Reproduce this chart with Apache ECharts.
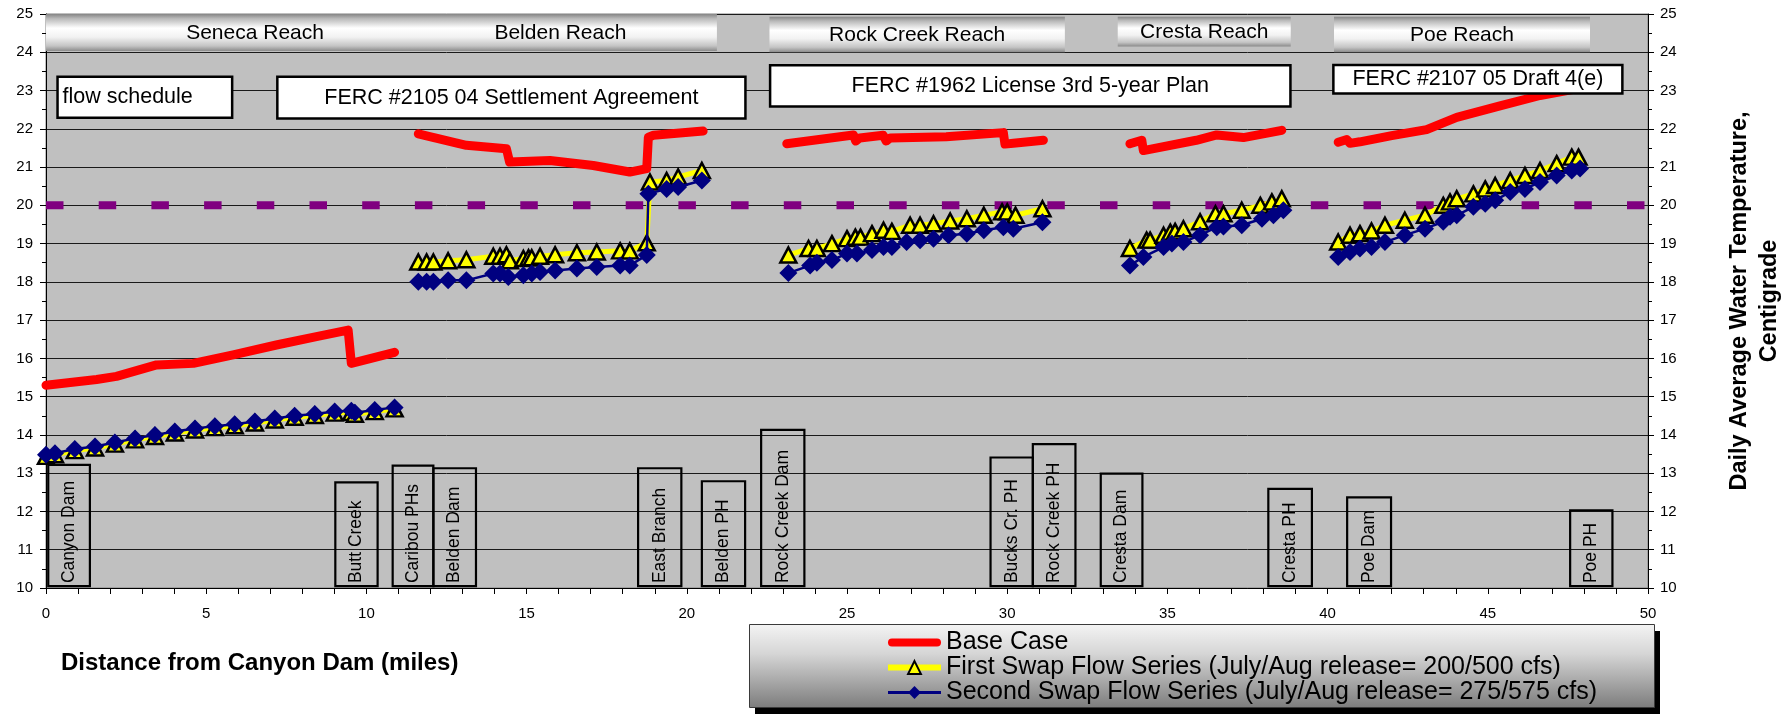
<!DOCTYPE html>
<html>
<head>
<meta charset="utf-8">
<title>Daily Average Water Temperature</title>
<script src="https://cdn.jsdelivr.net/npm/echarts/dist/echarts.min.js"></script>
<style>
    html, body { margin: 0; padding: 0; background: #fff; }
    #main { width: 1790px; height: 715px; }
</style>
</head>
<body>
<div id="main"></div>
<script>
    // ---- data ----
    // null marks a break between reaches
    var baseMiles = [0, 1.58, 2.2, 3.45, 4.6, 5.84, 7.19, 8.44, 9.43, 9.53, 10.88, null,
        11.62, 13.12, 14.37, 14.47, 15.73, 17.08, 18.22, 18.75, 18.8, 18.96, 20.51, null,
        23.12, 25.2, 25.27, 25.4, 26.13, 26.22, 26.35, 28.1, 29.88, 29.93, 30.19, 31.13, null,
        33.83, 34.2, 34.25, 35.9, 36.54, 37.37, 38.57, null,
        40.33, 40.6, 40.7, 41.01, 42.0, 43.09, 44.03, 45.38, 46.63, 47.72, 48.3];
    var baseTemp = [15.3, 15.45, 15.53, 15.83, 15.87, 16.09, 16.35, 16.57, 16.74, 15.87, 16.16, null,
        21.87, 21.57, 21.48, 21.13, 21.17, 21.04, 20.87, 20.96, 21.78, 21.83, 21.94, null,
        21.61, 21.84, 21.68, 21.76, 21.83, 21.68, 21.76, 21.79, 21.9, 21.6, 21.62, 21.7, null,
        21.61, 21.7, 21.43, 21.7, 21.84, 21.77, 21.96, null,
        21.65, 21.72, 21.62, 21.66, 21.82, 21.98, 22.3, 22.6, 22.87, 23.04, 23.12];

    var swap1Miles = [0, 0.28, 0.9, 1.53, 2.15, 2.78, 3.4, 4.02, 4.65, 5.27, 5.89, 6.52, 7.14, 7.76, 8.39, 9.01, 9.53, 9.64, 10.26, 10.88, null,
        11.62, 11.88, 12.09, 12.55, 13.12, 13.96, 14.17, 14.37, 14.48, 14.9, 15.06, 15.16, 15.42, 15.89, 16.57, 17.19, 17.92, 18.22, 18.75, 18.85, 19.37, 19.73, 20.47, null,
        23.17, 23.8, 24.06, 24.53, 25.0, 25.26, 25.42, 25.78, 26.14, 26.4, 26.97, 27.28, 27.7, 28.22, 28.74, 29.27, 29.84, 30.0, 30.26, 31.1, null,
        33.83, 34.35, 34.46, 34.88, 35.09, 35.24, 35.5, 36.02, 36.5, 36.75, 37.32, 37.9, 38.26, 38.57, null,
        40.33, 40.7, 41.01, 41.37, 41.79, 42.41, 43.04, 43.61, 43.82, 44.03, 44.55, 44.92, 45.23, 45.7, 46.16, 46.63, 47.15, 47.62, 47.83];
    var swap1Temp = [13.44, 13.48, 13.59, 13.66, 13.76, 13.87, 13.96, 14.05, 14.13, 14.19, 14.24, 14.31, 14.39, 14.46, 14.51, 14.57, 14.59, 14.54, 14.61, 14.68, null,
        18.52, 18.52, 18.52, 18.55, 18.58, 18.67, 18.67, 18.71, 18.55, 18.61, 18.63, 18.63, 18.67, 18.71, 18.76, 18.78, 18.81, 18.81, 19.02, 20.61, 20.65, 20.74, 20.91, null,
        18.7, 18.87, 18.87, 19.0, 19.13, 19.17, 19.17, 19.26, 19.35, 19.32, 19.48, 19.48, 19.52, 19.59, 19.65, 19.74, 19.83, 19.83, 19.74, 19.91, null,
        18.87, 19.09, 19.09, 19.22, 19.3, 19.32, 19.39, 19.57, 19.78, 19.78, 19.87, 20.0, 20.09, 20.17, null,
        19.04, 19.22, 19.26, 19.33, 19.48, 19.61, 19.74, 20.0, 20.09, 20.17, 20.3, 20.43, 20.52, 20.65, 20.78, 20.91, 21.09, 21.26, 21.26];

    var swap2Miles = [0, 0.28, 0.9, 1.53, 2.15, 2.78, 3.4, 4.02, 4.65, 5.27, 5.89, 6.52, 7.14, 7.76, 8.39, 9.01, 9.53, 9.64, 10.26, 10.88, null,
        11.62, 11.88, 12.09, 12.55, 13.12, 13.96, 14.17, 14.43, 14.9, 15.16, 15.42, 15.89, 16.57, 17.19, 17.92, 18.22, 18.75, 18.8, 19.37, 19.73, 20.47, null,
        23.17, 23.85, 24.06, 24.53, 25.0, 25.31, 25.78, 26.14, 26.4, 26.86, 27.28, 27.7, 28.17, 28.74, 29.27, 29.88, 30.19, 31.1, null,
        33.83, 34.25, 34.88, 35.14, 35.5, 36.02, 36.54, 36.75, 37.32, 37.95, 38.31, 38.62, null,
        40.33, 40.7, 41.01, 41.37, 41.79, 42.41, 43.04, 43.61, 43.82, 44.03, 44.55, 44.92, 45.23, 45.7, 46.16, 46.63, 47.15, 47.62, 47.88];
    var swap2Temp = [13.48, 13.52, 13.63, 13.7, 13.8, 13.91, 14.0, 14.09, 14.17, 14.23, 14.28, 14.35, 14.43, 14.5, 14.55, 14.61, 14.63, 14.58, 14.65, 14.72, null,
        18.0, 18.0, 18.0, 18.04, 18.04, 18.22, 18.22, 18.13, 18.17, 18.22, 18.26, 18.3, 18.35, 18.39, 18.43, 18.43, 18.7, 20.3, 20.43, 20.48, 20.65, null,
        18.23, 18.43, 18.5, 18.57, 18.74, 18.74, 18.83, 18.91, 18.91, 19.04, 19.09, 19.13, 19.22, 19.26, 19.35, 19.43, 19.39, 19.56, null,
        18.43, 18.65, 18.91, 19.0, 19.04, 19.22, 19.43, 19.45, 19.48, 19.65, 19.74, 19.87, null,
        18.65, 18.78, 18.87, 18.91, 19.04, 19.22, 19.39, 19.57, 19.7, 19.74, 19.96, 20.04, 20.13, 20.35, 20.43, 20.61, 20.78, 20.91, 20.96];

    var thresholdMiles = [0, 50];
    var thresholdTemp = [20, 20];

    var reachNames = ['Seneca Reach', 'Belden Reach', 'Rock Creek Reach', 'Cresta Reach', 'Poe Reach'];
    var reachStart = [0, 11.17, 22.58, 33.45, 40.2];
    var reachEnd = [13.05, 20.94, 31.8, 38.85, 48.19];
    var reachTop = [25, 25, 24.93, 24.93, 24.93];
    var reachBottom = [24.03, 24.03, 24.0, 24.15, 24.0];

    var noteText = ['flow schedule', 'FERC #2105 04 Settlement Agreement', 'FERC #1962 License 3rd 5-year Plan', 'FERC #2107 05 Draft 4(e)'];
    var noteStart = [0.36, 7.22, 22.6, 40.18];
    var noteEnd = [5.81, 21.83, 38.84, 49.2];
    var noteTop = [23.36, 23.36, 23.66, 23.67];
    var noteBottom = [22.29, 22.27, 22.58, 22.92];

    var plantNames = ['Canyon Dam', 'Butt Creek', 'Caribou PHs', 'Belden Dam', 'East Branch', 'Belden PH', 'Rock Creek Dam',
        'Bucks Cr. PH', 'Rock Creek PH', 'Cresta Dam', 'Cresta PH', 'Poe Dam', 'Poe PH'];
    var plantStart = [0.07, 9.03, 10.82, 12.09, 18.48, 20.47, 22.32, 29.48, 30.8, 32.92, 38.15, 40.61, 47.57];
    var plantEnd = [1.37, 10.35, 12.09, 13.42, 19.83, 21.82, 23.67, 30.8, 32.13, 34.22, 39.51, 41.98, 48.89];
    var plantTop = [13.22, 12.76, 13.2, 13.13, 13.13, 12.79, 14.13, 13.41, 13.76, 12.99, 12.59, 12.37, 12.03];
    var plantBase = 10.05;

    var seriesNames = ['Base Case',
        'First Swap Flow Series (July/Aug release= 200/500 cfs)',
        'Second Swap Flow Series (July/Aug release= 275/575 cfs)'];

    // ---- chart ----
    var FONT = '"Liberation Sans", Arial, sans-serif';

    function pairs(xs, ys) {
        return xs.map(function (x, i) {
            return ys[i] == null ? ['-', '-'] : [x, ys[i]];
        });
    }

    function boxData(starts, ends, tops, bottoms) {
        return starts.map(function (s, i) {
            return [s, ends[i], tops[i], bottoms ? bottoms[i] : plantBase];
        });
    }

    function drawPlant(params, api) {
        var p0 = api.coord([api.value(0), api.value(3)]);
        var p1 = api.coord([api.value(1), api.value(2)]);
        return {
            type: 'group',
            children: [{
                type: 'rect',
                shape: {x: p0[0], y: p1[1], width: p1[0] - p0[0], height: p0[1] - p1[1]},
                style: {fill: 'none', stroke: '#000', lineWidth: 2.2}
            }, {
                type: 'text',
                x: (p0[0] + p1[0]) / 2,
                y: p0[1] - 3,
                rotation: Math.PI / 2,
                style: {
                    text: plantNames[params.dataIndex],
                    fontSize: 17.5, fontFamily: FONT, fill: '#000',
                    align: 'left', verticalAlign: 'middle',
                    textAlign: 'left', textVerticalAlign: 'middle'
                }
            }]
        };
    }

    function drawNote(params, api) {
        var p0 = api.coord([api.value(0), api.value(3)]);
        var p1 = api.coord([api.value(1), api.value(2)]);
        var left = params.dataIndex === 0;
        return {
            type: 'group',
            children: [{
                type: 'rect',
                shape: {x: p0[0], y: p1[1], width: p1[0] - p0[0], height: p0[1] - p1[1]},
                style: {fill: '#fff', stroke: '#000', lineWidth: 2.5}
            }, {
                type: 'text',
                x: left ? p0[0] + 5 : (p0[0] + p1[0]) / 2,
                y: (p0[1] + p1[1]) / 2,
                style: {
                    text: noteText[params.dataIndex],
                    fontSize: 21.5, fontFamily: FONT, fill: '#000',
                    align: left ? 'left' : 'center', verticalAlign: 'middle',
                    textAlign: left ? 'left' : 'center', textVerticalAlign: 'middle'
                }
            }]
        };
    }

    function drawReach(params, api) {
        var p0 = api.coord([api.value(0), api.value(3)]);
        var p1 = api.coord([api.value(1), api.value(2)]);
        return {
            type: 'group',
            children: [{
                type: 'rect',
                shape: {x: p0[0], y: p1[1], width: p1[0] - p0[0], height: p0[1] - p1[1]},
                style: {
                    fill: new echarts.graphic.LinearGradient(0, 0, 0, 1, [
                        {offset: 0, color: '#858585'},
                        {offset: 0.12, color: '#b8b8b8'},
                        {offset: 0.38, color: '#ffffff'},
                        {offset: 0.62, color: '#f2f2f2'},
                        {offset: 0.86, color: '#c4c4c4'},
                        {offset: 1, color: '#8a8a8a'}
                    ])
                }
            }, {
                type: 'text',
                x: (p0[0] + p1[0]) / 2,
                y: (p0[1] + p1[1]) / 2 + 1,
                style: {
                    text: reachNames[params.dataIndex],
                    fontSize: 21, fontFamily: FONT, fill: '#000',
                    align: 'center', verticalAlign: 'middle',
                    textAlign: 'center', textVerticalAlign: 'middle'
                }
            }]
        };
    }

    var chart = echarts.init(document.getElementById('main'));

    var option = {
        animation: false,
        backgroundColor: '#fff',
        title: {
            text: 'Distance from Canyon Dam (miles)',
            left: 56, top: 646,
            textStyle: {fontFamily: FONT, fontSize: 24, fontWeight: 'bold', color: '#000'}
        },
        grid: {
            left: 46, right: 142, top: 14, bottom: 127,
            show: true, backgroundColor: '#C0C0C0', borderColor: '#808080', borderWidth: 1,
            outerBoundsMode: 'none'
        },
        graphic: [{
            type: 'rect', left: 755, top: 631, z: 0,
            shape: {width: 905, height: 83},
            style: {fill: '#000'}
        }, {
            type: 'rect', left: 749, top: 624, z: 1,
            shape: {width: 905, height: 83},
            style: {
                fill: new echarts.graphic.LinearGradient(0, 0, 0, 1, [
                    {offset: 0, color: '#f4f4f4'},
                    {offset: 0.35, color: '#d6d6d6'},
                    {offset: 1, color: '#7c7c7c'}
                ]),
                stroke: '#3a3a3a', lineWidth: 1
            }
        }],
        legend: {
            orient: 'vertical',
            left: 885, top: 630, height: 84, padding: 0,
            itemWidth: 53, itemHeight: 16, itemGap: 0,
            z: 5,
            textStyle: {fontFamily: FONT, fontSize: 25, color: '#000', lineHeight: 24},
            data: [{
                name: seriesNames[0],
                icon: 'path://M4,0 L49,0 A4,4 0 0 1 49,8 L4,8 A4,4 0 0 1 4,0 Z',
                itemStyle: {color: '#FF0000'}
            }, {
                name: seriesNames[1],
                lineStyle: {color: '#FFFF00', width: 6}
            }, {
                name: seriesNames[2],
                lineStyle: {color: '#000080', width: 3}
            }]
        },
        xAxis: {
            type: 'value', min: 0, max: 50, interval: 5,
            axisLine: {lineStyle: {color: '#000', width: 1}},
            axisTick: {length: 6, lineStyle: {color: '#000'}},
            minorTick: {show: true, splitNumber: 5, length: 6, lineStyle: {color: '#000'}},
            splitLine: {show: false},
            axisLabel: {fontFamily: FONT, fontSize: 15, color: '#000', margin: 18}
        },
        yAxis: [{
            type: 'value', min: 10, max: 25, interval: 1, position: 'left',
            axisLine: {show: true, lineStyle: {color: '#000', width: 1}},
            axisTick: {show: true, length: 6, lineStyle: {color: '#000'}},
            minorTick: {show: true, splitNumber: 2, length: 4, lineStyle: {color: '#000'}},
            splitLine: {show: true, lineStyle: {color: '#1a1a1a', width: 1}},
            axisLabel: {fontFamily: FONT, fontSize: 15, color: '#000', margin: 13}
        }, {
            type: 'value', min: 10, max: 25, interval: 1, position: 'right',
            name: 'Daily Average Water Temperature,\nCentigrade',
            nameLocation: 'middle', nameRotate: 90, nameGap: 77,
            nameTextStyle: {fontFamily: FONT, fontSize: 23.5, fontWeight: 'bold', color: '#000', lineHeight: 30, align: 'center'},
            axisLine: {show: true, lineStyle: {color: '#000', width: 1}},
            axisTick: {show: true, length: 6, lineStyle: {color: '#000'}},
            minorTick: {show: true, splitNumber: 2, length: 4, lineStyle: {color: '#000'}},
            splitLine: {show: false},
            axisLabel: {fontFamily: FONT, fontSize: 15, color: '#000', margin: 12}
        }],
        series: [{
            type: 'custom',
            name: 'plants',
            renderItem: drawPlant,
            encode: {x: [0, 1], y: [2, 3]},
            data: boxData(plantStart, plantEnd, plantTop),
            silent: true, z: 1
        }, {
            type: 'line',
            name: 'threshold',
            data: pairs(thresholdMiles, thresholdTemp),
            symbol: 'none',
            lineStyle: {color: '#800080', width: 8, type: [17.5, 35.2], cap: 'butt'},
            silent: true, z: 2
        }, {
            type: 'line',
            name: seriesNames[0],
            data: pairs(baseMiles, baseTemp),
            symbol: 'none',
            itemStyle: {color: '#FF0000'},
            lineStyle: {color: '#FF0000', width: 9, cap: 'round', join: 'round'},
            z: 3
        }, {
            type: 'line',
            name: seriesNames[1],
            data: pairs(swap1Miles, swap1Temp),
            symbol: 'triangle', symbolSize: [16, 15],
            itemStyle: {color: '#FFFF00', borderColor: '#000', borderWidth: 2.5},
            lineStyle: {color: '#FFFF00', width: 5},
            z: 4
        }, {
            type: 'line',
            name: seriesNames[2],
            data: pairs(swap2Miles, swap2Temp),
            symbol: 'diamond', symbolSize: [18, 18],
            itemStyle: {color: '#000080'},
            lineStyle: {color: '#000080', width: 2.5},
            z: 5
        }, {
            type: 'custom',
            name: 'notes',
            renderItem: drawNote,
            encode: {x: [0, 1], y: [2, 3]},
            data: boxData(noteStart, noteEnd, noteTop, noteBottom),
            silent: true, z: 6
        }, {
            type: 'custom',
            name: 'reaches',
            renderItem: drawReach,
            encode: {x: [0, 1], y: [2, 3]},
            data: boxData(reachStart, reachEnd, reachTop, reachBottom),
            silent: true, z: 6
        }]
    };

    chart.setOption(option);
</script>
</body>
</html>
